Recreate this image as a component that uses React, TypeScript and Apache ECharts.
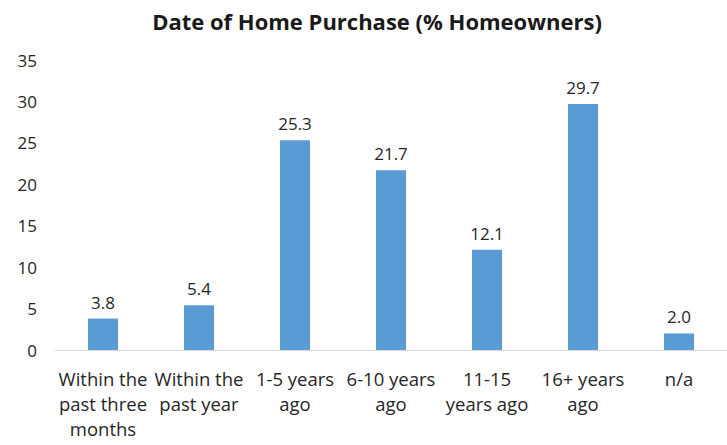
import React, { useEffect, useRef } from "react";
import * as echarts from "echarts";

const categories = [
  "Within the\npast three\nmonths",
  "Within the\npast year",
  "1-5 years\nago",
  "6-10 years\nago",
  "11-15\nyears ago",
  "16+ years\nago",
  "n/a",
];
const values = [3.8, 5.4, 25.3, 21.7, 12.1, 29.7, 2.0];
const yTicks = { min: 0, max: 35, interval: 5 };
const titleText = "Date of Home Purchase (% Homeowners)";

const FONT = "Open Sans";

export default function App() {
  const ref = useRef<HTMLDivElement>(null);
  useEffect(() => {
    if (!ref.current) return;
    const chart = echarts.init(ref.current, null, { renderer: "svg" });
    chart.setOption({
      animation: false,
      backgroundColor: "#ffffff",
      title: {
        text: titleText,
        left: 372,
        top: 5,
        textAlign: "center",
        textStyle: { fontFamily: FONT, fontSize: 22, fontWeight: "bold", color: "#1a1a1a" },
      },
      grid: { left: 55, right: -7, top: 60, bottom: 95, containLabel: false },
      xAxis: {
        type: "category",
        data: categories,
        axisLine: { show: true, lineStyle: { color: "#d9d9d9", width: 1 } },
        axisTick: { show: false },
        axisLabel: {
          interval: 0,
          margin: 16,
          fontFamily: FONT,
          fontSize: 18.5,
          lineHeight: 25,
          color: "#262626",
          align: "center",
        },
      },
      yAxis: {
        type: "value",
        min: yTicks.min,
        max: yTicks.max,
        interval: yTicks.interval,
        splitLine: { show: false },
        axisLine: { show: false },
        axisTick: { show: false },
        axisLabel: { margin: 18, fontFamily: FONT, fontSize: 17, color: "#262626" },
      },
      series: [
        {
          type: "bar",
          data: values,
          barWidth: 30,
          itemStyle: { color: "#5b9bd5" },
          label: {
            show: true,
            position: "top",
            distance: 8,
            fontFamily: FONT,
            fontSize: 17,
            color: "#262626",
            formatter: (p: any) => Number(p.value).toFixed(1),
          },
        },
      ],
    });
    return () => chart.dispose();
  }, []);
  return (
    <div
      ref={ref}
      style={{ position: "fixed", left: 0, top: 0, width: 727, height: 445 }}
    />
  );
}
